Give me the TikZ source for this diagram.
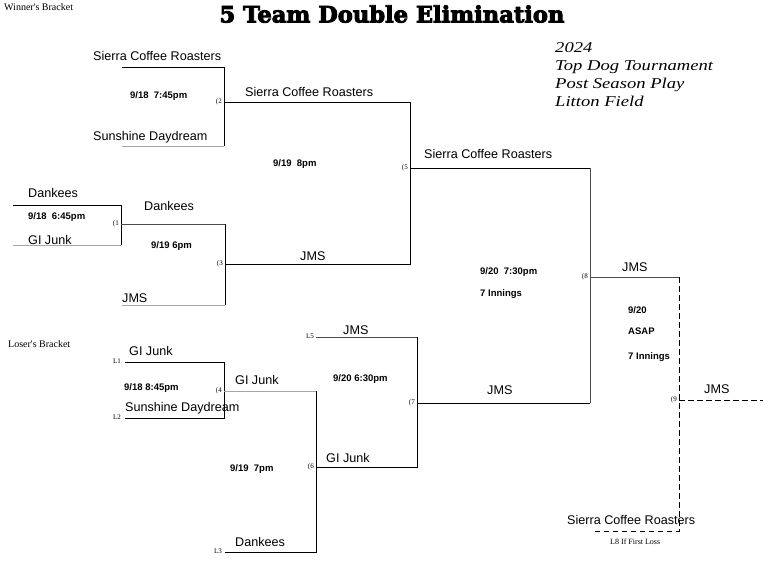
\documentclass[tikz,border=0pt]{standalone}
\usepackage{fontspec}
\setmainfont{Liberation Sans}
\newfontfamily\timesf{Liberation Serif}
\newfontfamily\titlef{DejaVu Serif}[BoldFeatures={FakeBold=4}]
\newfontfamily\scriptf{Liberation Serif}
\begin{document}
\begin{tikzpicture}[x=1pt,y=-1pt,
  team/.style={anchor=base west,inner sep=0pt,font=\fontsize{12.6}{13}\selectfont},
  date/.style={anchor=base west,inner sep=0pt,font=\fontsize{9.5}{10}\selectfont\bfseries},
  tiny/.style={anchor=east,inner sep=0pt,font=\timesf\fontsize{7}{7}\selectfont},
  brk/.style={anchor=base west,inner sep=0pt,font=\timesf\fontsize{10}{10}\selectfont},
  script/.style={anchor=base west,inner sep=0pt,font=\scriptf\itshape\fontsize{15}{15}\selectfont},
  ln/.style={line width=0.9pt,black},
  gln/.style={line width=0.9pt,black!35},
  dln/.style={line width=0.9pt,black!70},
  dsh/.style={line width=0.9pt,black,dash pattern=on 5.5pt off 3.5pt}]
\useasboundingbox (0,0) rectangle (770,568);
% corners
\coordinate (a2) at (122,67); \coordinate (b2) at (224,67); \coordinate (c2) at (224,146); \coordinate (d2) at (122,146); \coordinate (o2) at (224,102);
\coordinate (a1) at (13,205); \coordinate (b1) at (121,205); \coordinate (c1) at (121,245); \coordinate (d1) at (13,245); \coordinate (o1) at (121,224);
\coordinate (t3) at (225,224); \coordinate (c3) at (225,305); \coordinate (d3) at (122,305); \coordinate (o3) at (225,264);
\coordinate (t5) at (410,102); \coordinate (c5) at (410,264); \coordinate (o5) at (410,168);
\coordinate (a4) at (125,362); \coordinate (b4) at (224,362); \coordinate (c4) at (224,418); \coordinate (d4) at (125,418); \coordinate (o4) at (224,391);
\coordinate (t6) at (316,391); \coordinate (c6) at (316,552); \coordinate (d6) at (225,552); \coordinate (o6) at (316,467);
\coordinate (a7) at (316,337); \coordinate (b7) at (417,337); \coordinate (c7) at (417,467); \coordinate (o7) at (417,403);
\coordinate (t8) at (590,168); \coordinate (c8) at (590,403); \coordinate (o8) at (590,277);
\coordinate (t9) at (679,277); \coordinate (c9) at (679,531); \coordinate (d9) at (595,531); \coordinate (o9) at (679,400); \coordinate (e9) at (763,400);
% lines
\draw[ln] (a2) -- (b2) -- (c2); \draw[gln] (c2) -- (d2);
\draw[ln] (o2) -- (t5) -- (c5) -- (o3);
\draw[ln] (a1) -- (b1) -- (c1); \draw[gln] (c1) -- (d1);
\draw[dln] (o1) -- (t3); \draw[ln] (t3) -- (c3); \draw[gln] (c3) -- (d3);
\draw[ln] (o5) -- (t8); \draw[dln] (t8) -- (c8); \draw[ln] (c8) -- (o7);
\draw[ln] (a4) -- (b4) -- (c4) -- (d4);
\draw[gln] (o4) -- (t6); \draw[ln] (t6) -- (c6) -- (d6);
\draw[ln] (o6) -- (c7) -- (b7); \draw[dln] (b7) -- (a7);
\draw[dln] (o8) -- (t9);
\draw[dsh] (t9) -- (c9) -- (d9);
\draw[dsh] (o9) -- (e9);
% title
\node[inner sep=0pt,font=\titlef\bfseries\fontsize{22.6}{23}\selectfont] (title) at (392,14) {5 Team Double Elimination};
\node[brk] (wb) at (4,10) {Winner's Bracket};
\node[brk] (lb) at (8,347) {Loser's Bracket};
\node[script] (s1) at (555,52) {\scalebox{1.24}[1]{2024}};
\node[script] (s2) at (555,70) {\scalebox{1.24}[1]{Top Dog Tournament}};
\node[script] (s3) at (555,88) {\scalebox{1.24}[1]{Post Season Play}};
\node[script] (s4) at (555,106) {\scalebox{1.24}[1]{Litton Field}};
% teams
\node[team] (n1) at (93,60) {Sierra Coffee Roasters};
\node[team] (n2) at (93,140) {Sunshine Daydream};
\node[team] (n3) at (245,96) {Sierra Coffee Roasters};
\node[team] (n4) at (424,158) {Sierra Coffee Roasters};
\node[team] (n5) at (28,197) {Dankees};
\node[team] (n6) at (28,244) {GI Junk};
\node[team] (n7) at (144,210) {Dankees};
\node[team] (n8) at (122,302) {JMS};
\node[team] (n9) at (300,260) {JMS};
\node[team] (n10) at (622,271) {JMS};
\node[team] (n11) at (704,393) {JMS};
\node[team] (n12) at (567,524) {Sierra Coffee Roasters};
\node[team] (n13) at (129,355) {GI Junk};
\node[team] (n14) at (125,411) {Sunshine Daydream};
\node[team] (n15) at (235,384) {GI Junk};
\node[team] (n16) at (235,546) {Dankees};
\node[team] (n17) at (343,334) {JMS};
\node[team] (n18) at (326,462) {GI Junk};
\node[team] (n19) at (487,394) {JMS};
% dates
\node[date] (g2) at (130,98) {9/18~~7:45pm};
\node[date] (g5) at (273,166) {9/19~~8pm};
\node[date] (g1) at (28,219) {9/18~~6:45pm};
\node[date] (g3) at (151,248) {9/19 6pm};
\node[date] (g8) at (480,274) {9/20~~7:30pm};
\node[date] (g8b) at (480,296) {7 Innings};
\node[date] (g9) at (628,313) {9/20};
\node[date] (g9b) at (628,334) {ASAP};
\node[date] (g9c) at (628,359) {7 Innings};
\node[date] (g4) at (124,390) {9/18 8:45pm};
\node[date] (g6) at (230,471) {9/19~~7pm};
\node[date] (g7) at (333,381) {9/20 6:30pm};
% game numbers
\node[tiny] (m2) at (222,102) {(2};
\node[tiny] (m1) at (119,224) {(1};
\node[tiny] (m3) at (223,264) {(3};
\node[tiny] (m5) at (408,168) {(5};
\node[tiny] (m4) at (222,391) {(4};
\node[tiny] (m6) at (314,467) {(6};
\node[tiny] (m7) at (415,403) {(7};
\node[tiny] (m8) at (588,277) {(8};
\node[tiny] (m9) at (677,400) {(9};
\node[tiny] (l1) at (121,361) {L1};
\node[tiny] (l2) at (121,417) {L2};
\node[tiny] (l3) at (222,551) {L3};
\node[tiny] (l5) at (314,336) {L5};
\node[anchor=base west,inner sep=0pt,font=\timesf\fontsize{8}{8}\selectfont] (l8) at (610,544) {L8 If First Loss};
\end{tikzpicture}
\end{document}
